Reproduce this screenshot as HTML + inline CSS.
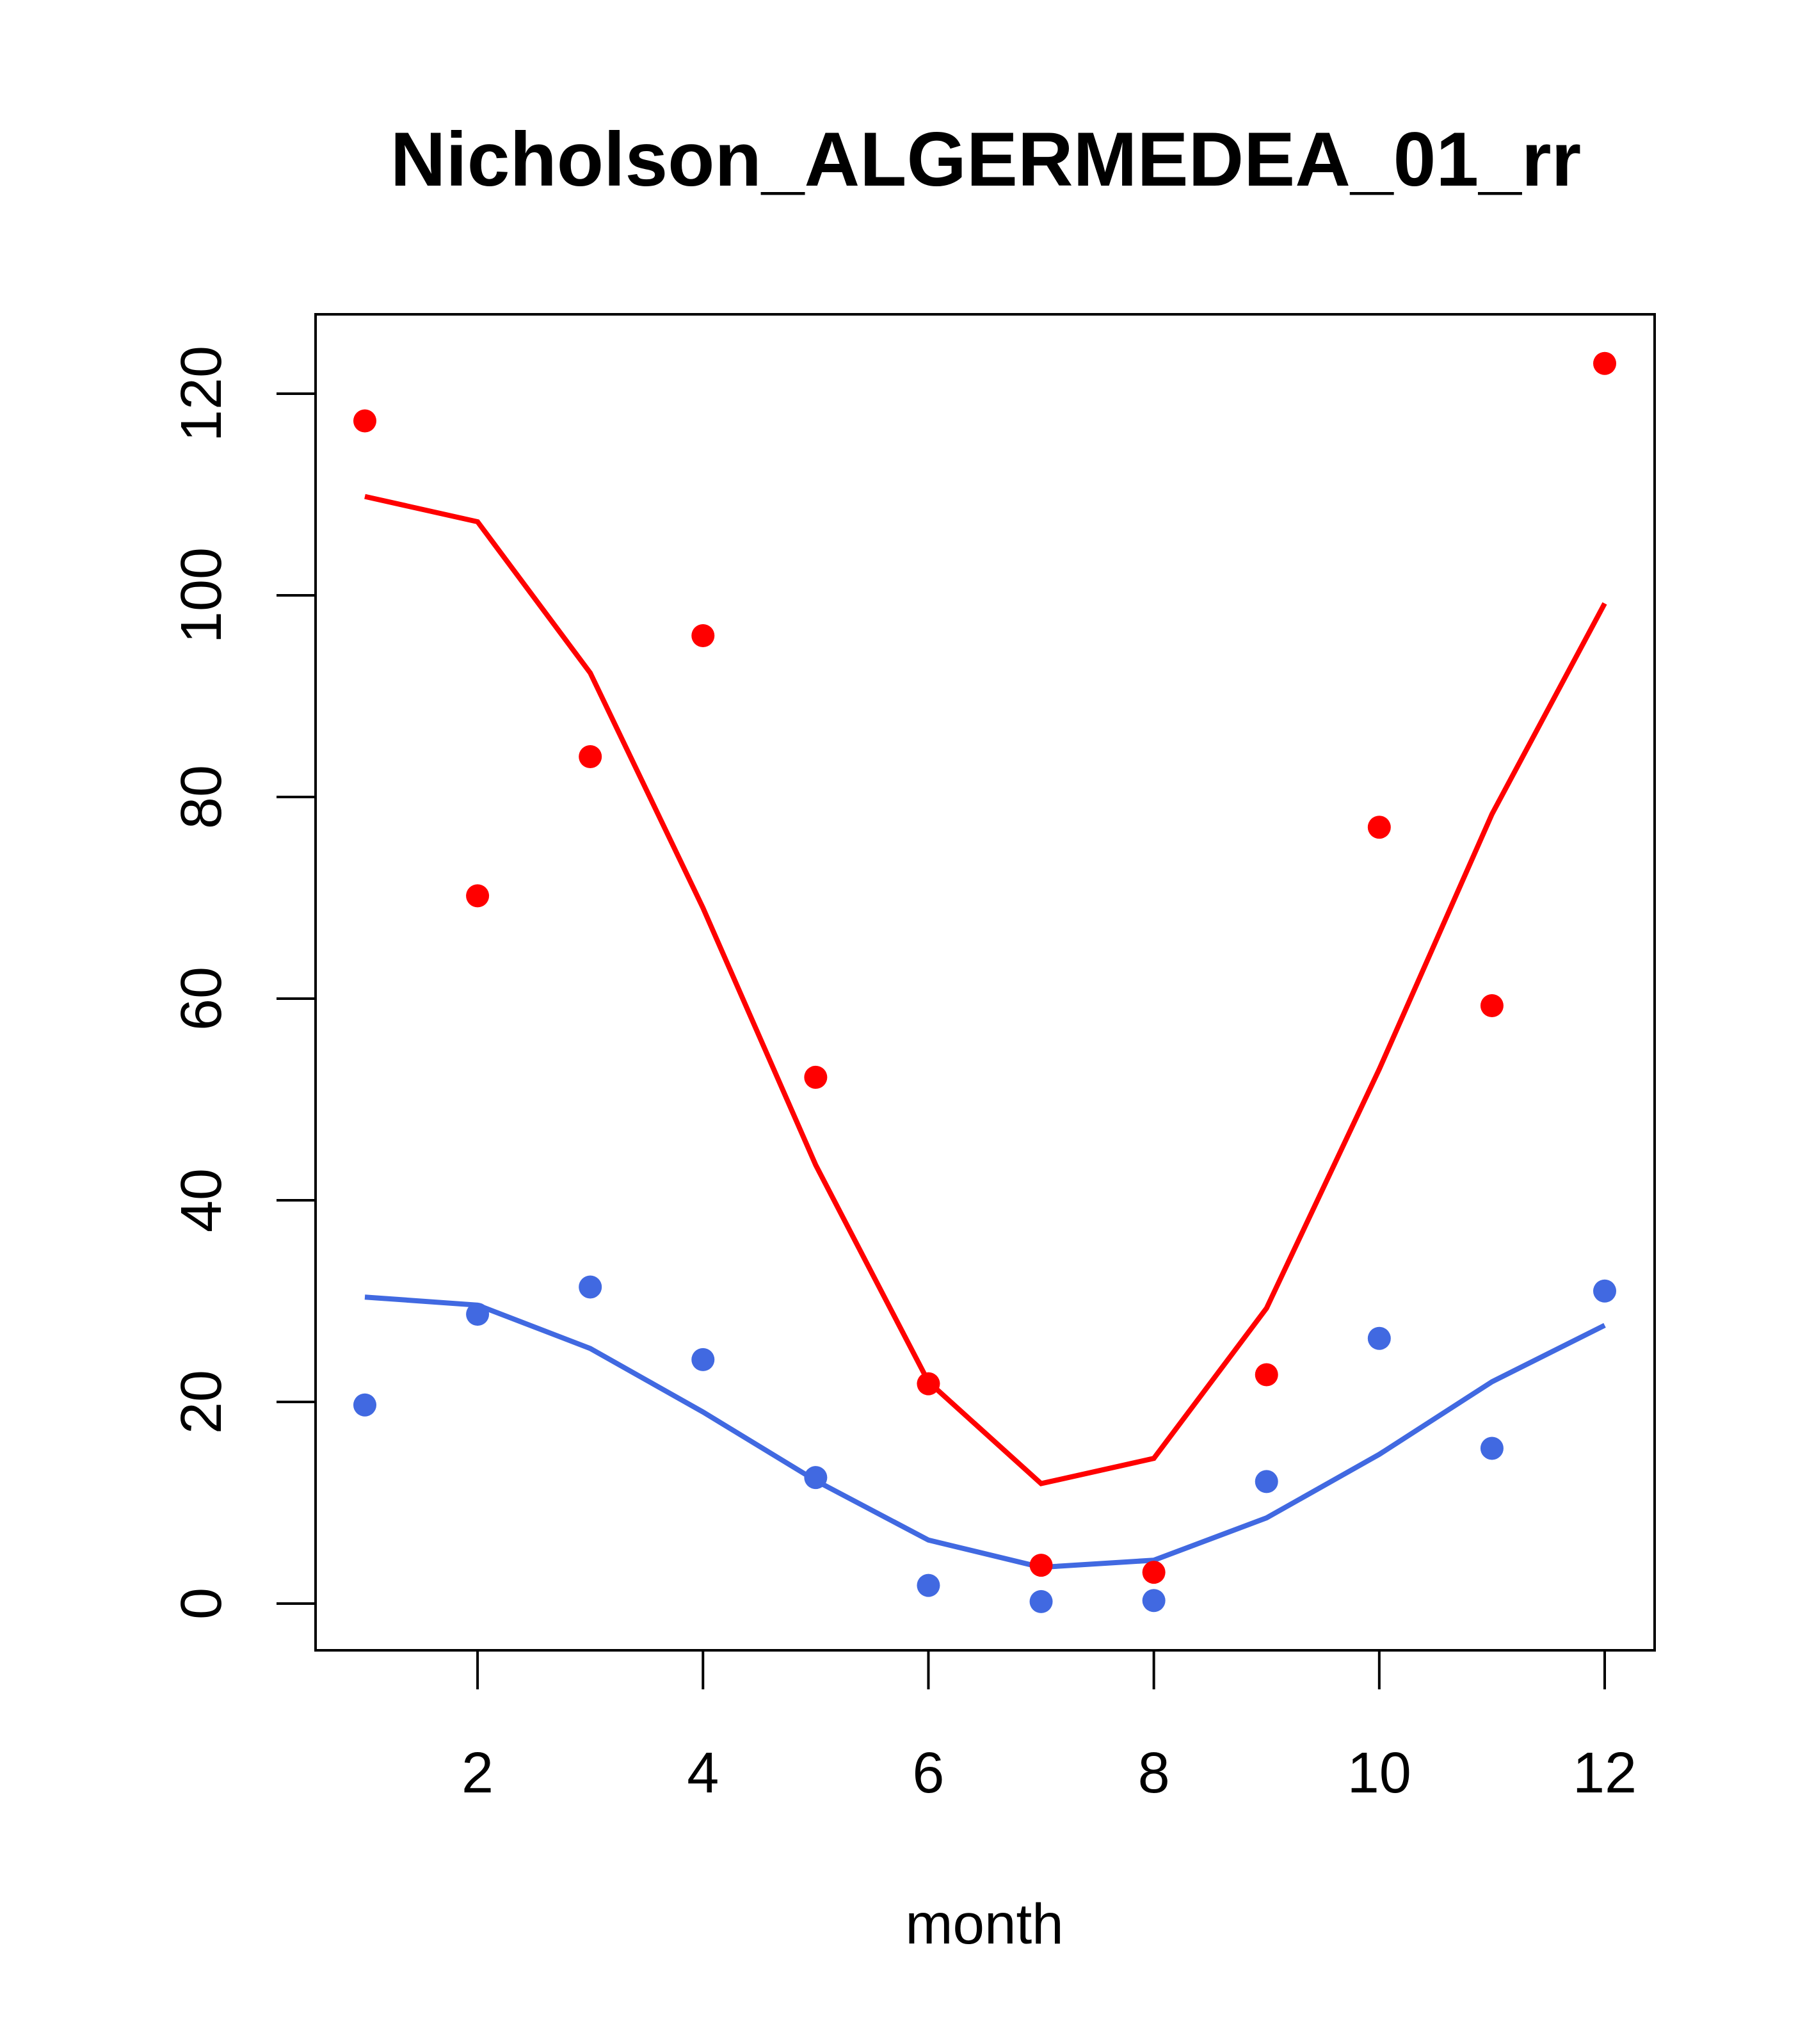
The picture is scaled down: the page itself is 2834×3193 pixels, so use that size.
<!DOCTYPE html>
<html><head><meta charset="utf-8"><style>html,body{margin:0;padding:0;background:#fff}</style></head>
<body>
<svg id="chart" width="2834" height="3188" xmlns="http://www.w3.org/2000/svg" font-family="Liberation Sans, sans-serif">
<rect width="2834" height="3188" fill="#fff"/>
<text x="1540" y="290" font-size="120" font-weight="bold" text-anchor="middle">Nicholson_ALGERMEDEA_01_rr</text>
<rect x="493" y="491" width="2092" height="2087" fill="none" stroke="#000" stroke-width="4"/>
<text x="1538" y="3036" font-size="89" text-anchor="middle">month</text>
<g id="axes"></g><g id="series"></g>
</svg>
<script>
const months = [1,2,3,4,5,6,7,8,9,10,11,12];
const redPoints = [117.3,70.2,84,96,52.2,21.8,3.8,3.1,22.7,77,59.3,123];
const redLine = [109.8,107.3,92.3,69,43.5,22,11.9,14.4,29.3,53,78.3,99.2];
const bluePoints = [19.7,28.7,31.4,24.2,12.5,1.8,0.2,0.3,12.1,26.3,15.4,31];
const blueLine = [30.4,29.6,25.3,19,12.2,6.3,3.6,4.3,8.5,14.8,22,27.6];
const xTicks = [2,4,6,8,10,12];
const yTicks = [0,20,40,60,80,100,120];
const NS='http://www.w3.org/2000/svg';
const xs = v => 570 + (v-1)*(2507-570)/11;
const ys = v => 2505 - v*(2505-615)/120;
const axes=document.getElementById('axes'), series=document.getElementById('series');
function mk(tag,attrs,parent){const e=document.createElementNS(NS,tag);for(const k in attrs)e.setAttribute(k,attrs[k]);parent.appendChild(e);return e;}
xTicks.forEach(t=>{
  const l=mk('line',{x1:xs(t),x2:xs(t),y1:2578,y2:2639,stroke:'#000','stroke-width':4},axes);
  
  
  const tx=mk('text',{x:xs(t),y:2800,'font-size':90,'text-anchor':'middle'},axes);
  tx.textContent=t;
  
  
});
yTicks.forEach(t=>{
  const l=mk('line',{x1:432,x2:493,y1:ys(t),y2:ys(t),stroke:'#000','stroke-width':4},axes);
  
  
  const tx=mk('text',{x:345,y:ys(t),'font-size':90,'text-anchor':'middle',transform:`rotate(-90 345 ${ys(t)})`},axes);
  tx.textContent=t;
  
  
});
function line(vals,color,name){
  const p=mk('polyline',{points:vals.map((v,i)=>xs(months[i])+','+ys(v)).join(' '),fill:'none',stroke:color,'stroke-width':8},series);
  
  
}
function pts(vals,color,name){
  vals.forEach((v,i)=>{
    const c=mk('circle',{cx:xs(months[i]),cy:ys(v),r:18,fill:color},series);
    
    
  });
}
line(redLine,'#ff0000','red-line');
line(blueLine,'#4169e1','blue-line');
pts(redPoints,'#ff0000','red-point');
pts(bluePoints,'#4169e1','blue-point');
</script>
</body></html>
